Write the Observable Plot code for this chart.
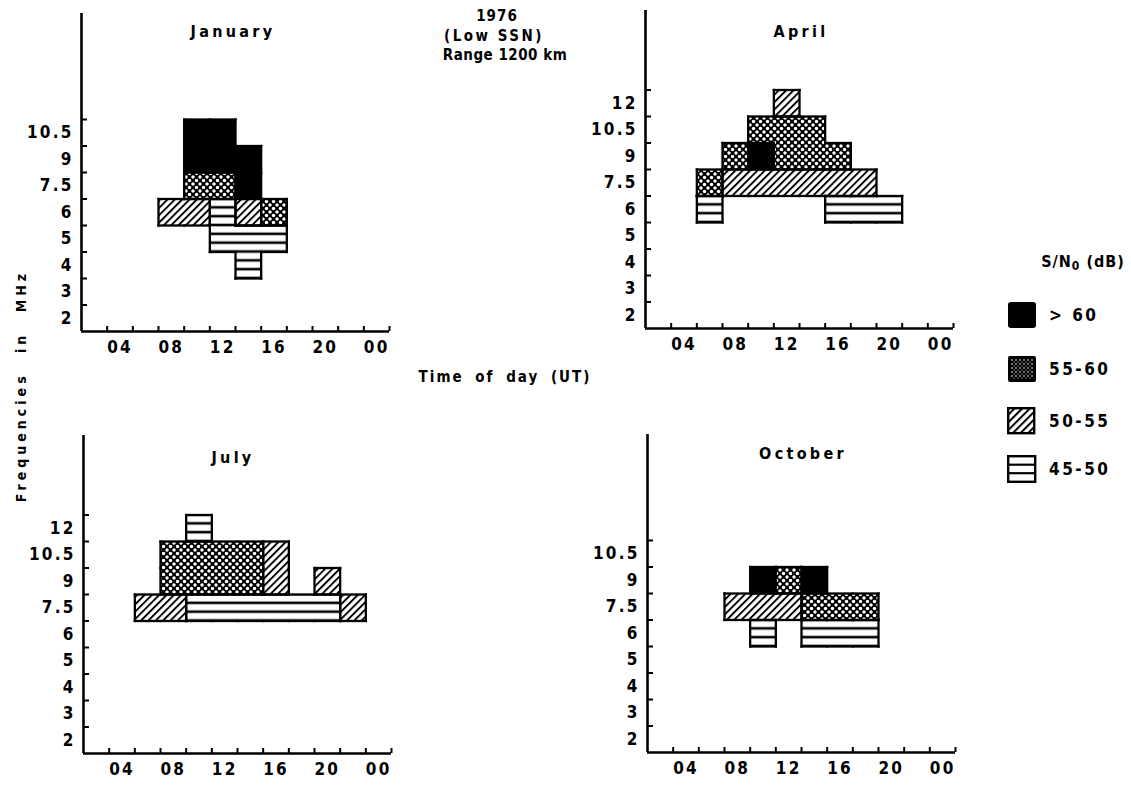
<!DOCTYPE html>
<html>
<head>
<meta charset="utf-8">
<script src="https://cdn.jsdelivr.net/npm/d3@7"></script>
<script src="https://cdn.jsdelivr.net/npm/@observablehq/plot@0.6"></script>
<style>
  body { margin: 0; background: #fff; }
  #wrap { position: relative; width: 1131px; height: 787px; overflow: hidden; background: #fff; color: #000;
          font-family: "DejaVu Sans Condensed", "DejaVu Sans", sans-serif; font-weight: bold; }
  .abs { position: absolute; white-space: nowrap; }
  .ctr { transform: translate(-50%, -50%); }
  .ttl { font-size: 15px; letter-spacing: 2.5px; font-weight: bold; }
  .nar { font-family: "Liberation Sans Narrow", "DejaVu Sans Condensed", "DejaVu Sans", sans-serif; }
</style>
</head>
<body>
<div id="wrap"></div>
<script>
// ---------------- data ----------------
const freqBands = [2, 3, 4, 5, 6, 7.5, 9, 10.5, 12];          // MHz bands (bottom to top)
const levels = [">60", "55-60", "50-55", "45-50"];            // S/N0 classes (dB)
const levelLabels = ["> 60", "55-60", "50-55", "45-50"];
const hourTicks = [3, 5, 7, 9, 11, 13, 15, 17, 19, 21, 23, 25]; // 2-hour slot boundaries
const hourLabels = [4, 8, 12, 16, 20, 24];
const hourLabelText = ["04", "08", "12", "16", "20", "00"];

// [frequency MHz, hour UT (slot centre), S/N0 class]
const january = [
  [10.5, 10, ">60"], [10.5, 12, ">60"],
  [9, 10, ">60"], [9, 12, ">60"], [9, 14, ">60"],
  [7.5, 10, "55-60"], [7.5, 12, "55-60"], [7.5, 14, ">60"],
  [6, 8, "50-55"], [6, 10, "50-55"], [6, 12, "45-50"], [6, 14, "50-55"], [6, 16, "55-60"],
  [5, 12, "45-50"], [5, 14, "45-50"], [5, 16, "45-50"],
  [4, 14, "45-50"]
];
const april = [
  [12, 12, "50-55"],
  [10.5, 10, "55-60"], [10.5, 12, "55-60"], [10.5, 14, "55-60"],
  [9, 8, "55-60"], [9, 10, ">60"], [9, 12, "55-60"], [9, 14, "55-60"], [9, 16, "55-60"],
  [7.5, 6, "55-60"], [7.5, 8, "50-55"], [7.5, 10, "50-55"], [7.5, 12, "50-55"], [7.5, 14, "50-55"], [7.5, 16, "50-55"], [7.5, 18, "50-55"],
  [6, 6, "45-50"], [6, 16, "45-50"], [6, 18, "45-50"], [6, 20, "45-50"]
];
const july = [
  [12, 10, "45-50"],
  [10.5, 8, "55-60"], [10.5, 10, "55-60"], [10.5, 12, "55-60"], [10.5, 14, "55-60"], [10.5, 16, "50-55"],
  [9, 8, "55-60"], [9, 10, "55-60"], [9, 12, "55-60"], [9, 14, "55-60"], [9, 16, "50-55"], [9, 20, "50-55"],
  [7.5, 6, "50-55"], [7.5, 8, "50-55"], [7.5, 10, "45-50"], [7.5, 12, "45-50"], [7.5, 14, "45-50"], [7.5, 16, "45-50"], [7.5, 18, "45-50"], [7.5, 20, "45-50"], [7.5, 22, "50-55"]
];
const october = [
  [9, 10, ">60"], [9, 12, "55-60"], [9, 14, ">60"],
  [7.5, 8, "50-55"], [7.5, 10, "50-55"], [7.5, 12, "50-55"], [7.5, 14, "55-60"], [7.5, 16, "55-60"], [7.5, 18, "55-60"],
  [6, 10, "45-50"], [6, 14, "45-50"], [6, 16, "45-50"], [6, 18, "45-50"]
];
const janFreqLabels = [2, 3, 4, 5, 6, 7.5, 9, 10.5];
const aprFreqLabels = [2, 3, 4, 5, 6, 7.5, 9, 10.5, 12];
const julFreqLabels = [2, 3, 4, 5, 6, 7.5, 9, 10.5, 12];
const octFreqLabels = [2, 3, 4, 5, 6, 7.5, 9, 10.5];

// ---------------- layout ----------------
const wrap = document.getElementById("wrap");
const ML = 70, MR = 12, MT = 4, MB = 34, IW = 308, IH = 318;
const W = ML + IW + MR, H = MT + IH + MB;
const BH = IH / 12;

const panels = [
  {id: "jan", title: "January", cells: january, labels: janFreqLabels, x0: 81, base: 331, tx: 233, ty: 31},
  {id: "apr", title: "April", cells: april, labels: aprFreqLabels, x0: 645, base: 328, tx: 801, ty: 31},
  {id: "jul", title: "July", cells: july, labels: julFreqLabels, x0: 83, base: 753, tx: 233, ty: 457},
  {id: "oct", title: "October", cells: october, labels: octFreqLabels, x0: 647, base: 752, tx: 803, ty: 453}
];

function patternDefs(pid, baseY) {
  const P = BH / 3;
  return `
  <pattern id="${pid}-1" patternUnits="userSpaceOnUse" width="7" height="7">
    <rect width="7" height="7" fill="#000"/>
    <circle cx="0" cy="0" r="1.75" fill="#fff"/><circle cx="7" cy="0" r="1.75" fill="#fff"/>
    <circle cx="0" cy="7" r="1.75" fill="#fff"/><circle cx="7" cy="7" r="1.75" fill="#fff"/>
    <circle cx="3.5" cy="3.5" r="1.75" fill="#fff"/>
  </pattern>
  <pattern id="${pid}-2" patternUnits="userSpaceOnUse" width="5.2" height="5.2" patternTransform="rotate(45)">
    <rect width="5.2" height="5.2" fill="#fff"/>
    <rect x="0" y="0" width="1.9" height="5.2" fill="#000"/>
  </pattern>
  <pattern id="${pid}-3" patternUnits="userSpaceOnUse" width="10" height="${P}" x="0" y="${baseY}">
    <rect width="10" height="${P}" fill="#fff"/>
    <rect y="0" width="10" height="1.3" fill="#000"/>
    <rect y="${P - 1.3}" width="10" height="1.3" fill="#000"/>
  </pattern>`;
}
function fillFor(pid, k) { return k === 0 ? "#000" : `url(#${pid}-${k})`; }

const bandIndex = f => freqBands.indexOf(f);

// outline segments: a cell side is drawn where the neighbour is absent or of another class
function cellEdges(cells) {
  const key = (f, h) => f + "|" + h;
  const m = new Map(cells.map(c => [key(c[0], c[1]), c[2]]));
  const out = [];
  for (const [f, h, s] of cells) {
    const i = bandIndex(f);
    const nb = (ff, hh) => m.get(key(ff, hh));
    if (nb(f, h - 2) !== s) out.push({a: h - 1, b: h - 1, c: i, d: i + 1});
    if (nb(f, h + 2) !== s) out.push({a: h + 1, b: h + 1, c: i, d: i + 1});
    if (nb(freqBands[i - 1], h) !== s) out.push({a: h - 1, b: h + 1, c: i, d: i});
    if (nb(freqBands[i + 1], h) !== s) out.push({a: h - 1, b: h + 1, c: i + 1, d: i + 1});
  }
  return out;
}

for (const p of panels) {
  const cells = p.cells.map(([f, h, s]) => ({f, h, s}));
  const tickIdx = p.labels.map((_, i) => i + 1);
  const labelIdx = p.labels.map(f => bandIndex(f) + 0.5);
  const chart = Plot.plot({
    width: W, height: H, marginLeft: ML, marginRight: MR, marginTop: MT, marginBottom: MB,
    style: {fontFamily: '"Liberation Sans Narrow", "DejaVu Sans Condensed", "DejaVu Sans", sans-serif', fontSize: "17px", fontWeight: "bold", color: "#000", background: "transparent", letterSpacing: "2.2px"},
    x: {domain: [1, 25]},
    y: {domain: [0, 12]},
    marks: [
      ...levels.map((lv, k) => Plot.rect(cells.filter(c => c.s === lv), {
        x1: c => c.h - 1, x2: c => c.h + 1,
        y1: c => bandIndex(c.f), y2: c => bandIndex(c.f) + 1,
        fill: fillFor(p.id, k), shapeRendering: "crispEdges"
      })),
      Plot.link(cellEdges(p.cells), {x1: "a", x2: "b", y1: "c", y2: "d", stroke: "#000", strokeWidth: 2.3, strokeLinecap: "square"}),
      Plot.ruleX([1], {stroke: "#000", strokeWidth: 2.6}),
      Plot.ruleY([0], {stroke: "#000", strokeWidth: 2.6}),
      Plot.axisX(hourTicks, {tickSize: 5, dy: -5, tickFormat: () => "", strokeWidth: 2, label: null}),
      Plot.axisX(hourLabels, {tickSize: 0, tickPadding: 9, tickFormat: d => hourLabelText[hourLabels.indexOf(d)], label: null}),
      Plot.axisY(tickIdx, {tickSize: 6, dx: 6, tickFormat: () => "", strokeWidth: 2, label: null}),
      Plot.axisY(labelIdx, {tickSize: 0, tickPadding: 8, tickFormat: v => String(freqBands[Math.floor(v)]), label: null})
    ]
  });
  const holder = document.createElement("div");
  holder.className = "abs";
  holder.style.left = (p.x0 - ML) + "px";
  holder.style.top = (p.base - MT - IH) + "px";
  const svg = chart.tagName.toLowerCase() === "svg" ? chart : chart.querySelector("svg");
  const defs = document.createElementNS("http://www.w3.org/2000/svg", "defs");
  defs.innerHTML = patternDefs(p.id, MT + IH);
  svg.insertBefore(defs, svg.firstChild);
  holder.appendChild(chart);
  wrap.appendChild(holder);

  const t = document.createElement("div");
  t.className = "abs ctr ttl";
  t.style.left = p.tx + "px"; t.style.top = p.ty + "px";
  t.style.fontSize = "16px"; t.style.letterSpacing = "3.3px";
  t.textContent = p.title;
  wrap.appendChild(t);
}

// ---------------- texts ----------------
function addText(txt, x, y, cls, extra) {
  const d = document.createElement("div");
  d.className = "abs ctr " + (cls || "");
  d.style.left = x + "px"; d.style.top = y + "px";
  d.innerHTML = txt;
  if (extra) Object.assign(d.style, extra);
  wrap.appendChild(d);
  return d;
}
addText("1976", 497, 16, "ttl", {fontSize: "15px", letterSpacing: "1px"});
addText("(Low SSN)", 494, 36, "ttl", {fontSize: "15px", letterSpacing: "2.5px"});
addText("Range 1200 km", 505, 55, "ttl", {fontSize: "15px", letterSpacing: "0.5px"});
addText("Time of day (UT)", 505, 377, "ttl", {fontSize: "15px", letterSpacing: "2px", wordSpacing: "5px"});
addText("Frequencies in MHz", 21, 386, "ttl", {fontSize: "14px", letterSpacing: "4px", wordSpacing: "11px", transform: "translate(-50%, -50%) rotate(-90deg)"});

// ---------------- legend ----------------
addText('S/N<span style="font-size:12px;position:relative;top:3px">0</span> (dB)', 1083, 261, "ttl", {fontSize: "16px", letterSpacing: "1px"});
const legTops = [301, 355, 407, 455];
levels.forEach((lv, k) => {
  const sw = document.createElement("div");
  sw.className = "abs";
  sw.style.left = "1007px"; sw.style.top = legTops[k] + "px";
  let inner = "";
  if (k === 0) inner = `<rect x="1" y="1" width="28" height="26" rx="3" fill="#000"/>`;
  else if (k === 1) inner = `<rect x="1" y="1" width="28" height="26" rx="2" fill="#000"/>
      <rect x="4" y="4" width="22" height="20" fill="url(#lgd-1)"/>`;
  else if (k === 2) inner = `<rect x="1.2" y="1.2" width="26" height="25" fill="url(#lgd-2)" stroke="#000" stroke-width="2.4"/>`;
  else inner = `<rect x="1.2" y="1.2" width="27" height="25.6" fill="#fff" stroke="#000" stroke-width="2.4"/>
      <line x1="1" x2="29" y1="9.7" y2="9.7" stroke="#000" stroke-width="2.2"/>
      <line x1="1" x2="29" y1="18.2" y2="18.2" stroke="#000" stroke-width="2.2"/>`;
  sw.innerHTML = `<svg width="31" height="29" xmlns="http://www.w3.org/2000/svg"><defs>
      <pattern id="lgd-1" patternUnits="userSpaceOnUse" width="4" height="4">
        <rect width="4" height="4" fill="#000"/><circle cx="1" cy="1" r="0.8" fill="#fff"/><circle cx="3" cy="3" r="0.6" fill="#fff"/>
      </pattern>
      <pattern id="lgd-2" patternUnits="userSpaceOnUse" width="5.4" height="5.4" patternTransform="rotate(45)">
        <rect width="5.4" height="5.4" fill="#fff"/><rect width="2" height="5.4" fill="#000"/>
      </pattern></defs>${inner}</svg>`;
  wrap.appendChild(sw);
  const lb = document.createElement("div");
  lb.className = "abs ttl nar";
  lb.style.left = "1049px"; lb.style.top = (legTops[k] + 14) + "px";
  lb.style.transform = "translateY(-50%)";
  lb.style.fontSize = "17px";
  lb.style.letterSpacing = "2.5px";
  lb.textContent = levelLabels[k];
  wrap.appendChild(lb);
});
</script>
</body>
</html>
